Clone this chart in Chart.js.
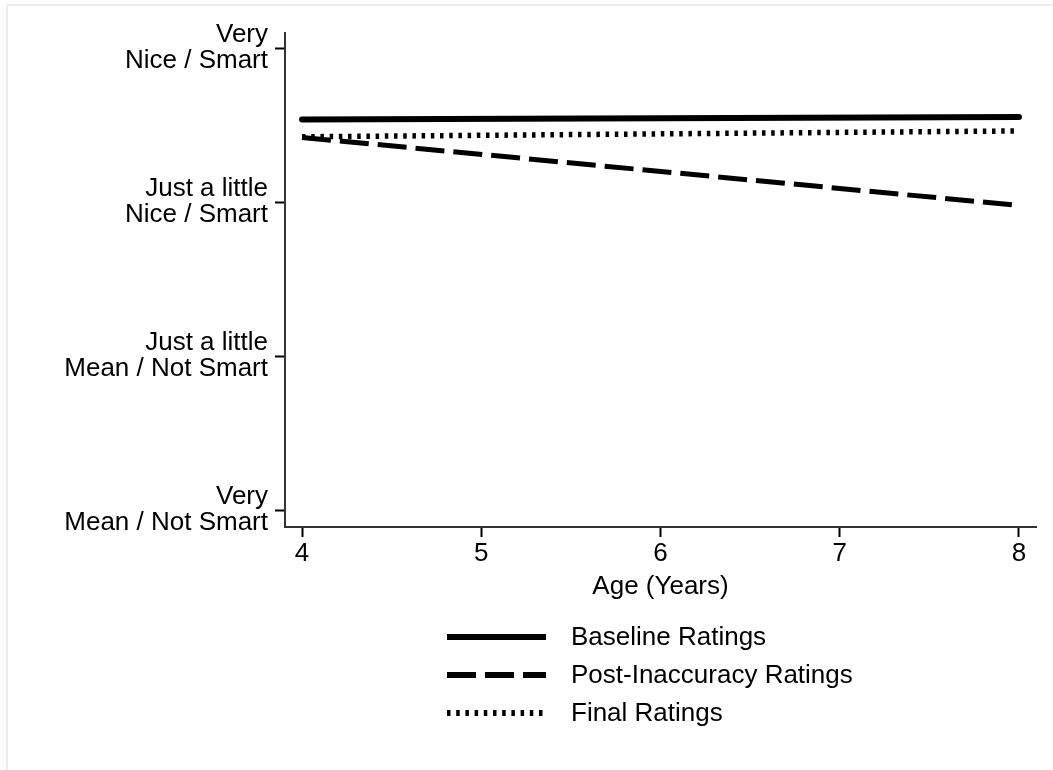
<!DOCTYPE html>
<html>
<head>
<meta charset="utf-8">
<script src="https://cdn.jsdelivr.net/npm/chart.js@4/dist/chart.umd.min.js"></script>
<style>
  html, body { margin: 0; padding: 0; background: #fff; }
  .wrap { position: relative; width: 1053px; height: 770px; }
  .frame { position: absolute; left: 6px; top: 4px; width: 1100px; height: 800px;
           border-left: 2px solid #e9eef1; border-top: 2px solid #e9eef1; }
  canvas { position: absolute; left: 0; top: 0; }
</style>
</head>
<body>
<div class="wrap">
  <div class="frame"></div>
  <canvas id="chart" width="1053" height="770"></canvas>
</div>
<script>
// ages on the x axis
const ages = [4, 8];
const xTicks = [4, 5, 6, 7, 8];

// rating scale: 1 = very mean, 4 = very nice
const yTicks = [1, 2, 3, 4];
const yTickLabels = [
  ["Very", "Mean / Not Smart"],
  ["Just a little", "Mean / Not Smart"],
  ["Just a little", "Nice / Smart"],
  ["Very", "Nice / Smart"]
];

// fitted ratings at age 4 and age 8
const baseline = [3.536, 3.552];
const postInaccuracy = [3.42, 2.978];
const finalRatings = [3.424, 3.462];

const seriesNames = ["Baseline Ratings", "Post-Inaccuracy Ratings", "Final Ratings"];

const FONT = "'Liberation Sans', Arial, Helvetica, sans-serif";
const FSIZE = 26;

const toPoints = vals => vals.map((v, i) => ({ x: ages[i], y: v }));

// legend stacked under the plot, like the original
const stackedLegend = {
  id: 'stackedLegend',
  afterDraw(chart) {
    const ctx = chart.ctx;
    const x0 = 447, x1 = 546, textX = 571;
    const rows = [637, 675, 713];
    ctx.save();
    chart.data.datasets.forEach((ds, i) => {
      const y = rows[i];
      ctx.beginPath();
      ctx.lineWidth = ds.legendWidth;
      ctx.lineCap = 'butt';
      ctx.setLineDash(ds.borderDash || []);
      ctx.strokeStyle = ds.borderColor;
      ctx.moveTo(x0, y);
      ctx.lineTo(ds.borderDash && ds.borderDash[0] < 5 ? x1 - 3 : x1, y);
      ctx.stroke();
      ctx.setLineDash([]);
      ctx.fillStyle = '#000';
      ctx.font = FSIZE + 'px ' + FONT;
      ctx.textBaseline = 'middle';
      ctx.textAlign = 'left';
      ctx.fillText(ds.label, textX, y + 1);
    });
    ctx.restore();
  }
};

new Chart(document.getElementById('chart'), {
  type: 'line',
  data: {
    datasets: [
      {
        label: seriesNames[0],
        data: toPoints(baseline),
        borderColor: '#000',
        borderWidth: 6,
        borderCapStyle: 'round',
        legendWidth: 6,
        pointRadius: 0
      },
      {
        label: seriesNames[1],
        data: toPoints(postInaccuracy),
        borderColor: '#000',
        borderWidth: 5,
        borderDash: [29, 9],
        legendWidth: 6,
        pointRadius: 0
      },
      {
        label: seriesNames[2],
        data: toPoints(finalRatings),
        borderColor: '#000',
        borderWidth: 5.5,
        borderDash: [3.5, 5.7],
        legendWidth: 6,
        pointRadius: 0
      }
    ]
  },
  options: {
    responsive: false,
    animation: false,
    layout: {
      padding: { left: 0, right: 17, top: 33, bottom: 170 }
    },
    plugins: {
      legend: { display: false },
      tooltip: { enabled: false }
    },
    scales: {
      x: {
        type: 'linear',
        min: 3.905,
        max: 8.095,
        afterBuildTicks: scale => { scale.ticks = xTicks.map(v => ({ value: v })); },
        grid: { drawOnChartArea: false, tickLength: 10, color: '#000', tickWidth: 2 },
        border: { display: true, color: '#333', width: 2 },
        ticks: {
          color: '#000',
          padding: 4,
          font: { family: FONT, size: FSIZE, lineHeight: 1.0 },
          maxRotation: 0
        },
        title: {
          display: true,
          text: 'Age (Years)',
          color: '#000',
          font: { family: FONT, size: FSIZE, lineHeight: 1.0 },
          padding: { top: 3, bottom: 0 }
        }
      },
      y: {
        type: 'linear',
        min: 0.89,
        max: 4.098,
        afterBuildTicks: scale => { scale.ticks = yTicks.map(v => ({ value: v })); },
        afterFit: scale => { scale.width = 285; },
        grid: { drawOnChartArea: false, tickLength: 10, color: '#000', tickWidth: 2 },
        border: { display: true, color: '#333', width: 2 },
        ticks: {
          color: '#000',
          padding: 7,
          font: { family: FONT, size: FSIZE, lineHeight: 1.0 },
          callback: value => yTickLabels[yTicks.indexOf(value)]
        }
      }
    }
  },
  plugins: [stackedLegend]
});
</script>
</body>
</html>
